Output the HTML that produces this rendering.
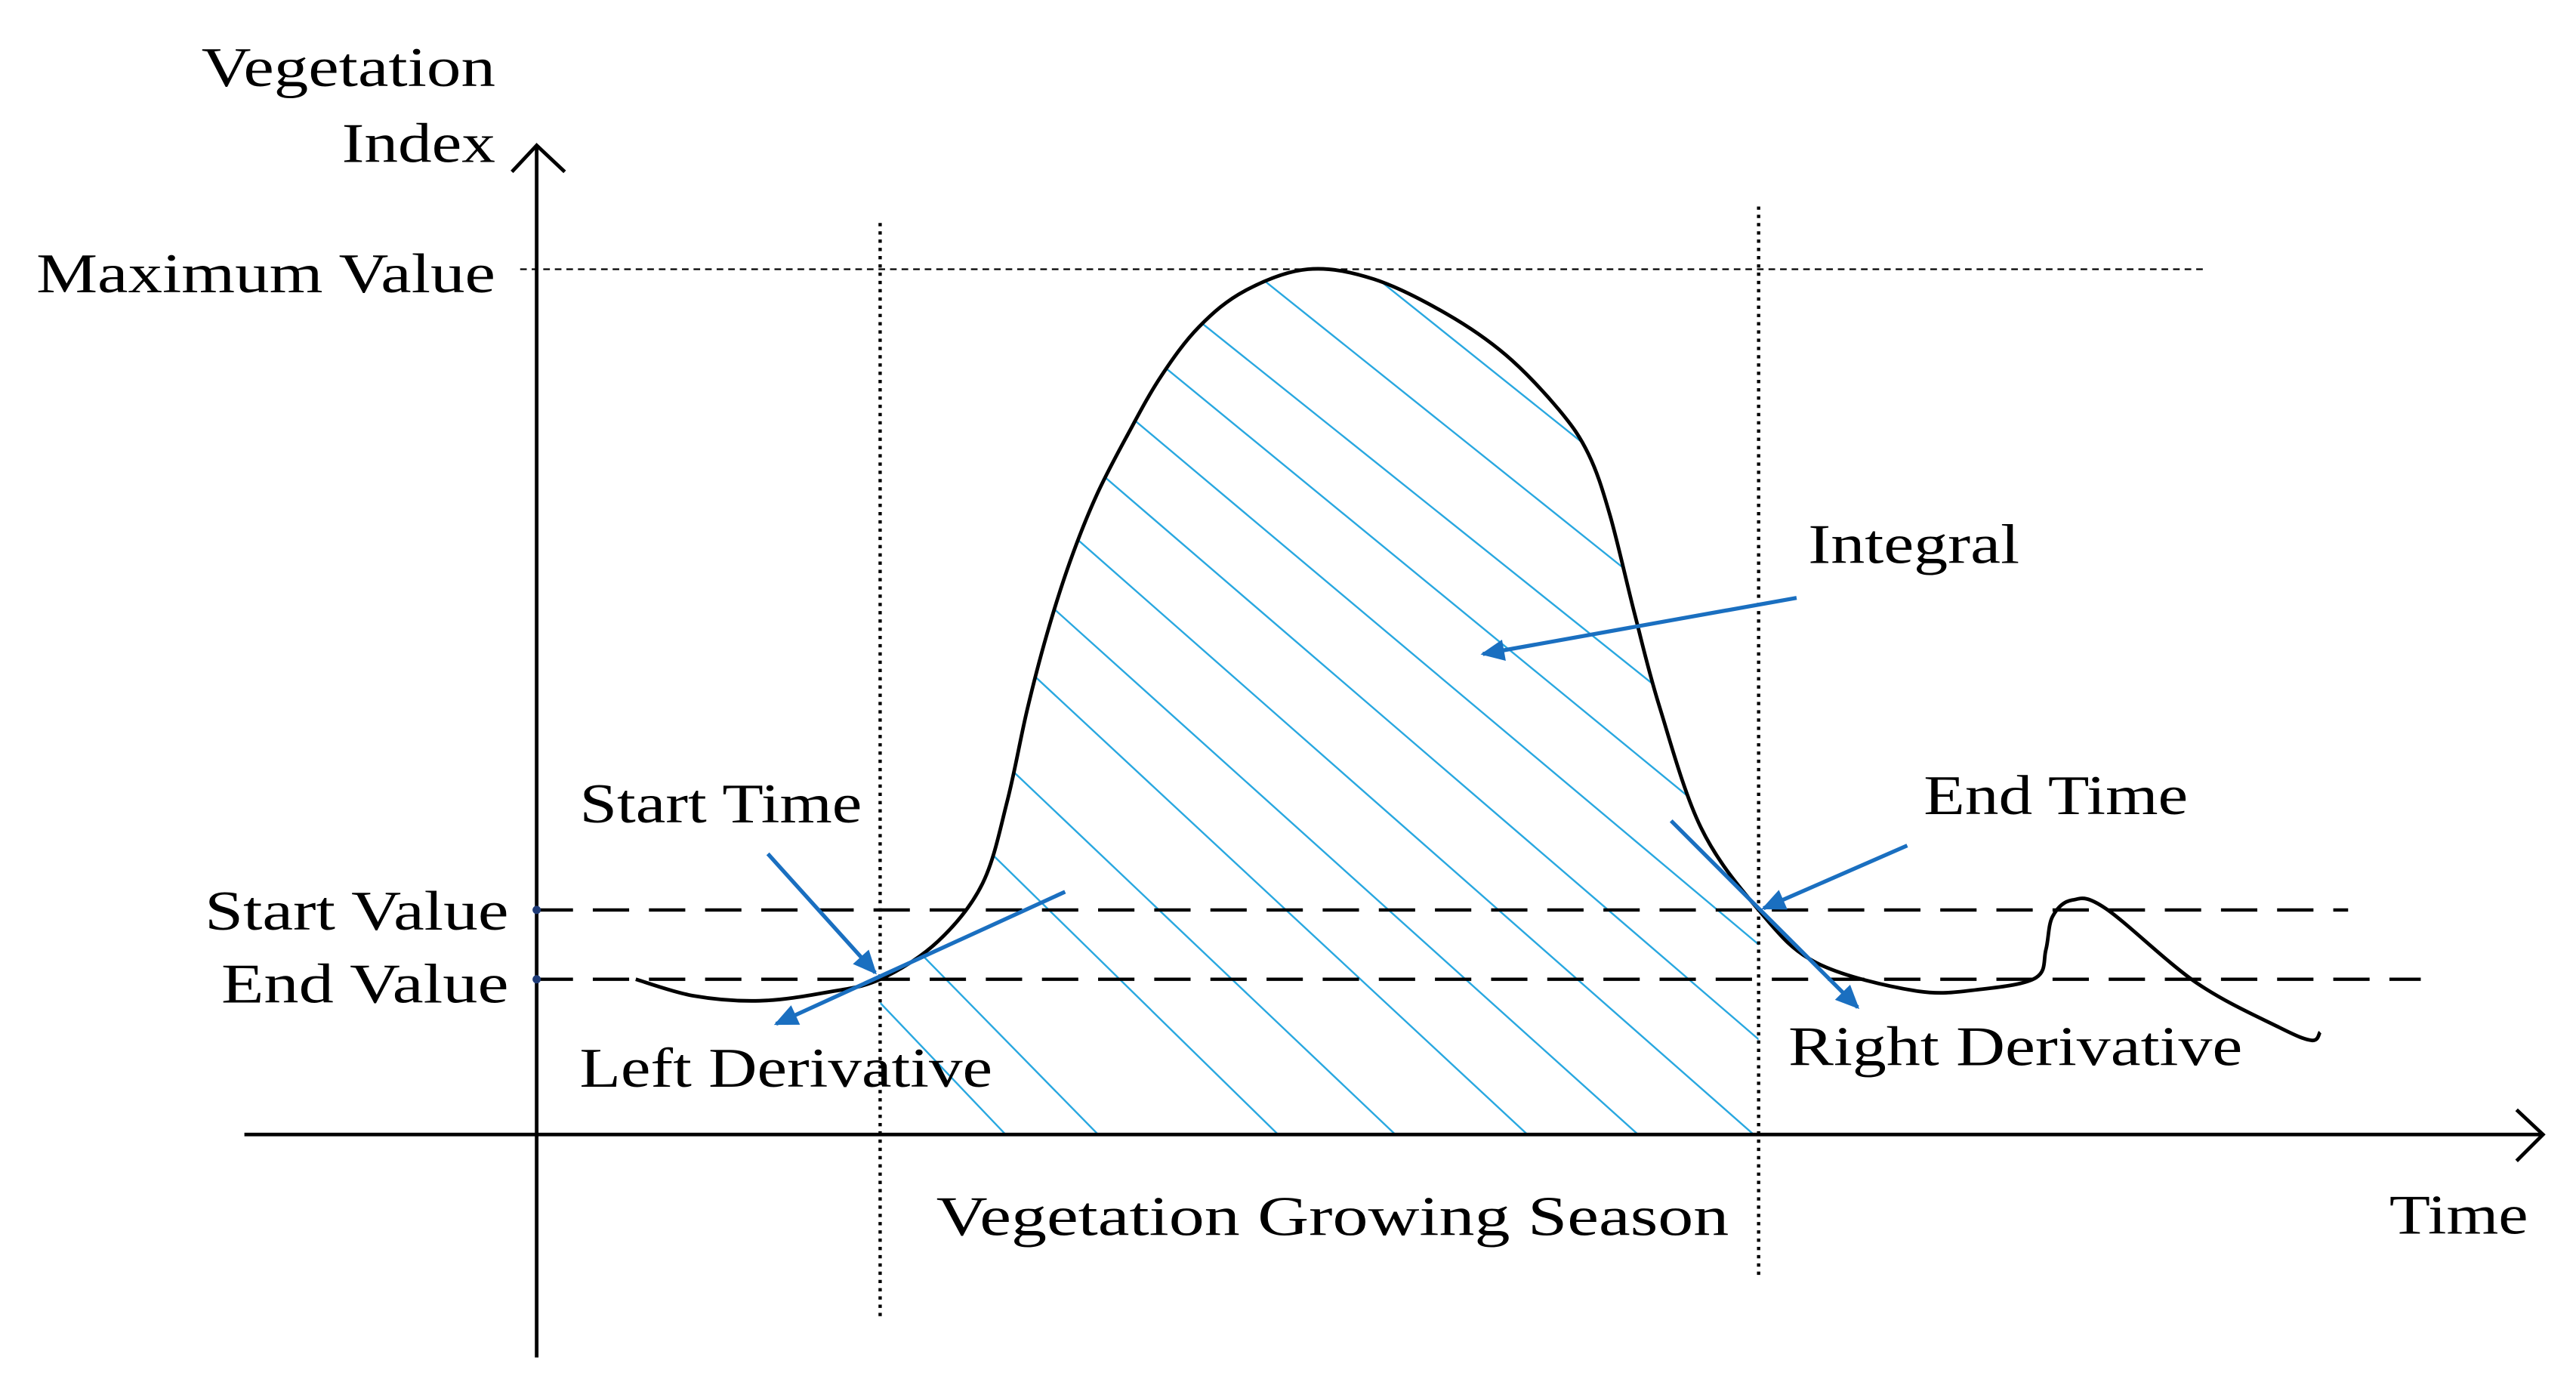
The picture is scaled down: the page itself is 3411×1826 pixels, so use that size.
<!DOCTYPE html>
<html><head><meta charset="utf-8"><style>
html,body{margin:0;padding:0;background:#fff}
svg{display:block}
text{font-family:"Liberation Serif",serif;font-size:34px;fill:#000}
</style></head><body>
<svg id="chart" width="3411" height="1826" viewBox="0 0 1560 835" xmlns="http://www.w3.org/2000/svg">
<defs>
<marker id="ah" viewBox="0 0 10 10" refX="9" refY="5" markerWidth="8" markerHeight="6" orient="auto" markerUnits="strokeWidth"><path d="M0,0.5 L10,5 L0,9.5 z" fill="#1a6fc0"/></marker>
<clipPath id="areaClip"><path id="clipPath" d=""/></clipPath>
</defs>
<g id="hatch" clip-path="url(#areaClip)"></g>
<line x1="315" y1="163" x2="1335" y2="163" stroke="#000" stroke-width="1" stroke-dasharray="4,3"/>
<line x1="325" y1="551" x2="1422" y2="551" stroke="#000" stroke-width="2" stroke-dasharray="22,12"/>
<line x1="325" y1="593" x2="1466" y2="593" stroke="#000" stroke-width="2" stroke-dasharray="22,12"/>
<line x1="533" y1="135" x2="533" y2="800" stroke="#000" stroke-width="2" stroke-dasharray="2,3"/>
<line x1="1065" y1="125" x2="1065" y2="775" stroke="#000" stroke-width="2" stroke-dasharray="2,3"/>
<g stroke="#000" stroke-width="2.2" fill="none">
<line x1="325" y1="822" x2="325" y2="88"/><polyline points="310,104 325,88 342,104"/></g>
<g stroke="#000" stroke-width="2.2" fill="none">
<line x1="148" y1="687" x2="1540" y2="687"/><polyline points="1524,672 1540,687 1524,703"/></g>
<circle cx="325" cy="551" r="2.5" fill="#1f3c78"/>
<circle cx="325" cy="593" r="2.5" fill="#1f3c78"/>
<path id="curve" d="" fill="none" stroke="#000" stroke-width="2.2"/>
<g stroke="#1a6fc0" stroke-width="2.4" fill="none">
<line x1="1088" y1="362" x2="898" y2="396" marker-end="url(#ah)"/>
<line x1="465" y1="517" x2="530" y2="589" marker-end="url(#ah)"/>
<line x1="645" y1="540" x2="470" y2="620" marker-end="url(#ah)"/>
<line x1="1155" y1="512" x2="1068" y2="550" marker-end="url(#ah)"/>
<line x1="1012" y1="497" x2="1125" y2="610" marker-end="url(#ah)"/>
</g>
<text x="122" y="52" textLength="178" lengthAdjust="spacingAndGlyphs">Vegetation</text>
<text x="207" y="98" textLength="93" lengthAdjust="spacingAndGlyphs">Index</text>
<text x="22" y="177" textLength="278" lengthAdjust="spacingAndGlyphs">Maximum Value</text>
<text x="124" y="563" textLength="184" lengthAdjust="spacingAndGlyphs">Start Value</text>
<text x="134" y="607" textLength="174" lengthAdjust="spacingAndGlyphs">End Value</text>
<text x="351" y="498" textLength="171" lengthAdjust="spacingAndGlyphs">Start Time</text>
<text x="351" y="658" textLength="250" lengthAdjust="spacingAndGlyphs">Left Derivative</text>
<text x="1095" y="341" textLength="128" lengthAdjust="spacingAndGlyphs">Integral</text>
<text x="1165" y="493" textLength="160" lengthAdjust="spacingAndGlyphs">End Time</text>
<text x="1083" y="645" textLength="275" lengthAdjust="spacingAndGlyphs">Right Derivative</text>
<text x="567" y="748" textLength="480" lengthAdjust="spacingAndGlyphs">Vegetation  Growing  Season</text>
<text x="1447" y="747" textLength="84" lengthAdjust="spacingAndGlyphs">Time</text>
</svg>
<script>
const curveX=[385,420,460,500,533,568,595,610,622,634,648,664,683,703,726,754,792,832,876,912,944,962,975,990,1005,1030,1065,1100,1160,1200,1233,1239,1243,1255,1275,1330,1380,1400,1405];
const curveY=[593,603,606,601,593,570,535,485,430,384,340,300,263,228,198,176,163,169,190,215,248,275,312,372,428,501,551,583,600,599,592,575,555,545,550,595,622,630,625];
const hatchBottomX=[609,665,774,845,925,992,1062,1132,1202,1272,1342,1412,1482];
const hatchSlope=[1.05,1.02,0.98,0.95,0.93,0.9,0.88,0.86,0.84,0.82,0.8,0.8,0.8];
function cr(xs,ys,i0,i1){
  let d='M'+xs[i0]+','+ys[i0];
  for(let i=i0;i<i1;i++){
    const p0=[xs[Math.max(i-1,0)],ys[Math.max(i-1,0)]],p1=[xs[i],ys[i]],p2=[xs[i+1],ys[i+1]],p3=[xs[Math.min(i+2,xs.length-1)],ys[Math.min(i+2,xs.length-1)]];
    const c1=[p1[0]+(p2[0]-p0[0])/6,p1[1]+(p2[1]-p0[1])/6],c2=[p2[0]-(p3[0]-p1[0])/6,p2[1]-(p3[1]-p1[1])/6];
    d+=' C'+c1[0]+','+c1[1]+' '+c2[0]+','+c2[1]+' '+p2[0]+','+p2[1];
  }
  return d;
}
document.getElementById('curve').setAttribute('d',cr(curveX,curveY,0,curveX.length-1));
const a=curveX.indexOf(533),b=curveX.indexOf(1065);
document.getElementById('clipPath').setAttribute('d',cr(curveX,curveY,a,b)+' L1065,687 L533,687 Z');
const g=document.getElementById('hatch');
hatchBottomX.forEach((bx,i)=>{
  const s=hatchSlope[i];
  const l=document.createElementNS('http://www.w3.org/2000/svg','line');
  
  
  l.setAttribute('x1',bx);l.setAttribute('y1',687);
  l.setAttribute('x2',bx-700);l.setAttribute('y2',687-700*s);
  l.setAttribute('stroke','#29a8e0');l.setAttribute('stroke-width','1.1');
  g.appendChild(l);
});
</script>
</body></html>
